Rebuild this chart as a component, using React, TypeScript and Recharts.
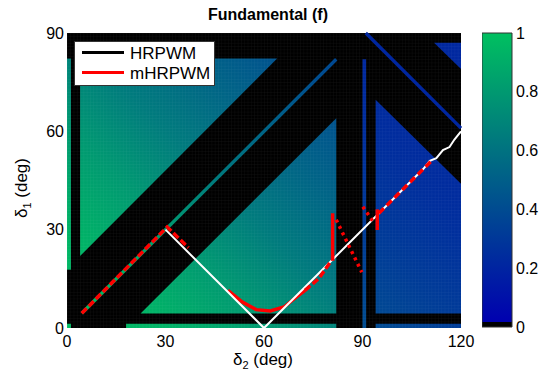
import { ComposedChart, Area, Line, XAxis, YAxis, Legend, BarChart, Bar } from 'recharts';

const FONT = '"Liberation Sans", Arial, Helvetica, sans-serif';
const WIDTH = 543;
const HEIGHT = 384;
// plot box of the map, in page pixels
const PLOT = { left: 67, top: 33, width: 394, height: 295 };

const xTicks = [0, 30, 60, 90, 120];
const yTicks = [0, 30, 60, 90];
const colorTicks = [0, 0.2, 0.4, 0.6, 0.8, 1];

// map value against δ1 + δ2 (left of the δ2 = 90 strip / right of it)
const sumStops = [0, 30, 60, 90, 120, 150, 180, 210];
const valueLeft = [0.98, 0.93, 0.8, 0.64, 0.52, 0.41, 0.33, 0.3];
const valueRight = [0.5, 0.47, 0.44, 0.4, 0.31, 0.24, 0.2, 0.21];

// coloured cells of the map: δ2 -> [δ1 low, δ1 high]; everything else is black
const leftStrip = [{ x: 0, r: [17.8, 82.2] }, { x: 1.2, r: [17.8, 82.2] }];
const leftCorner = [{ x: 0, r: [0, 1.3] }, { x: 1.2, r: [0, 1.3] }];
const upperTriangle = [{ x: 4, r: [22, 82.2] }, { x: 64, r: [82.2, 82.2] }];
const lowerTriangle = [{ x: 22.4, r: [4.4, 4.4] }, { x: 82, r: [4.4, 64] }];
const bottomStrip = [{ x: 18, r: [0, 1.3] }, { x: 82, r: [0, 1.3] }];
const strip90 = [{ x: 90, r: [0, 82] }, { x: 91.1, r: [0, 82] }];
const rightRegion = [{ x: 94, r: [4.4, 69.6] }, { x: 120, r: [4.4, 44] }];
const rightBottom = [{ x: 94, r: [0, 1.3] }, { x: 120, r: [0, 1.3] }];
const cornerTriangle = [{ x: 111.8, r: [87, 87] }, { x: 120, r: [79, 87] }];
const diagonal = [{ x: 4.5, y: 4.5 }, { x: 82, y: 82 }];
const antiDiagonal = [{ x: 91, y: 90 }, { x: 120, y: 61 }];
const fullMap = [{ x: 0, r: [0, 90] }, { x: 120, r: [0, 90] }];

// HRPWM (drawn white on the map)
const hrpwm = [
  { x: 30, y: 30 }, { x: 60, y: 0 }, { x: 108.5, y: 48.5 }, { x: 110.5, y: 51 },
  { x: 112.5, y: 51.8 }, { x: 114.5, y: 54.3 }, { x: 116.5, y: 55.2 }, { x: 118, y: 57.5 }, { x: 120, y: 60 },
];

// mHRPWM pieces
const mLeft = [{ x: 4.5, y: 4.5 }, { x: 30.5, y: 30.8 }, { x: 37, y: 24.5 }];
const mCurve = [
  { x: 49, y: 11.5 }, { x: 53.4, y: 7.9 }, { x: 57.6, y: 5.6 }, { x: 61.9, y: 5.2 },
  { x: 66.1, y: 6.4 }, { x: 69.3, y: 9 }, { x: 72.5, y: 11.5 },
];
const mRise = [{ x: 72.5, y: 11.5 }, { x: 76.7, y: 15.1 }, { x: 80.5, y: 20.5 }];
const mJump = [{ x: 80.9, y: 20.5 }, { x: 80.9, y: 35 }];
const mCross1 = [{ x: 82, y: 33 }, { x: 89.8, y: 17 }];
const mCross2 = [{ x: 90.1, y: 37 }, { x: 93.3, y: 32.4 }];
const mJump2 = [{ x: 94.5, y: 36.2 }, { x: 94.5, y: 29.9 }];
const mUpper = [{ x: 95, y: 35 }, { x: 111, y: 51 }];

const legendItems = [
  { name: 'HRPWM', color: '#000000' },
  { name: 'mHRPWM', color: '#ff0000' },
];

const LOW = [0, 0, 176];
const HIGH = [0, 192, 96];
function cmap(v: number) {
  const c = LOW.map((l, i) => Math.round(l + (HIGH[i] - l) * v));
  return `rgb(${c[0]},${c[1]},${c[2]})`;
}

// gradient runs along δ1 = δ2, from (0,0) to (105,105)
const g0 = { x: PLOT.left, y: PLOT.top + PLOT.height };
const g1 = {
  x: PLOT.left + (105 / 120) * PLOT.width,
  y: PLOT.top + PLOT.height - (105 / 90) * PLOT.height,
};
// one map cell = 1 deg
const cellW = PLOT.width / 120;
const cellH = PLOT.height / 90;

function FieldGradient({ id, values }: { id: string; values: number[] }) {
  return (
    <linearGradient id={id} gradientUnits="userSpaceOnUse" x1={g0.x} y1={g0.y} x2={g1.x} y2={g1.y}>
      {sumStops.map((s, i) => (
        <stop key={s} offset={s / 210} stopColor={cmap(values[i])} />
      ))}
    </linearGradient>
  );
}

function MapLegend() {
  return (
    <svg width={141} height={45} style={{ display: 'block' }}>
      <rect x={0.5} y={0.5} width={140} height={44} fill="#fff" stroke="#333" />
      {legendItems.map((item, i) => (
        <g key={item.name}>
          <line x1={8} x2={50} y1={11.5 + i * 20} y2={11.5 + i * 20} stroke={item.color} strokeWidth={3} />
          <text x={56} y={17.5 + i * 20} fontSize={17} fontFamily={FONT} fill="#000">
            {item.name}
          </text>
        </g>
      ))}
    </svg>
  );
}

const region = (data: any[], fill: string, key: string, opacity = 1) => (
  <Area
    key={key}
    data={data}
    dataKey="r"
    type="linear"
    stroke="none"
    fill={fill}
    fillOpacity={opacity}
    dot={false}
    activeDot={false}
    isAnimationActive={false}
  />
);

const path = (data: any[], stroke: string, width: number, key: string, dash?: string) => (
  <Line
    key={key}
    data={data}
    dataKey="y"
    type="linear"
    stroke={stroke}
    strokeWidth={width}
    strokeDasharray={dash}
    dot={false}
    activeDot={false}
    isAnimationActive={false}
  />
);

export default function App() {
  const tick = { fontSize: 16, fill: '#000', fontFamily: FONT };
  return (
    <div style={{ position: 'absolute', left: 0, top: 0, width: WIDTH, height: HEIGHT, background: '#fff', fontFamily: FONT }}>
      <ComposedChart
        width={WIDTH}
        height={HEIGHT}
        margin={{ top: PLOT.top, right: WIDTH - PLOT.left - PLOT.width, bottom: HEIGHT - PLOT.top - PLOT.height - 30, left: PLOT.left - 40 }}
      >
        <defs>
          <FieldGradient id="fieldL" values={valueLeft} />
          <FieldGradient id="fieldR" values={valueRight} />
          <pattern id="mesh" patternUnits="userSpaceOnUse" x={PLOT.left} y={PLOT.top} width={cellW} height={cellH}>
            <path d={`M ${cellW} 0 L 0 0 L 0 ${cellH}`} fill="none" stroke="#fff" strokeWidth={0.6} />
          </pattern>
        </defs>
        <XAxis
          type="number"
          dataKey="x"
          domain={[0, 120]}
          ticks={xTicks}
          interval={0}
          height={30}
          axisLine={false}
          tickLine={false}
          tickSize={6}
          tickMargin={2}
          tick={tick}
        />
        <YAxis
          type="number"
          domain={[0, 90]}
          ticks={yTicks}
          interval={0}
          width={40}
          axisLine={false}
          tickLine={false}
          tickSize={1}
          tickMargin={2}
          tick={tick}
        />
        {region(fullMap, '#000', 'bg')}
        {region(leftStrip, 'url(#fieldL)', 'a')}
        {region(leftCorner, 'url(#fieldL)', 'b')}
        {region(upperTriangle, 'url(#fieldL)', 'c')}
        {region(lowerTriangle, 'url(#fieldL)', 'd')}
        {region(bottomStrip, 'url(#fieldL)', 'e')}
        {region(strip90, 'url(#fieldR)', 'f')}
        {region(rightRegion, 'url(#fieldR)', 'g')}
        {region(rightBottom, 'url(#fieldR)', 'h')}
        {region(cornerTriangle, 'url(#fieldR)', 'i')}
        {region(fullMap, 'url(#mesh)', 'mesh', 0.09)}
        {path(diagonal, 'url(#fieldL)', 3.3, 'diag')}
        {path(antiDiagonal, 'url(#fieldR)', 3.3, 'anti')}
        {path(mCurve, '#ff0000', 3.5, 'm3')}
        {path(hrpwm, '#ffffff', 2, 'hr')}
        {path(mLeft, '#ff0000', 3.5, 'm1', '7 3')}
        {path(mRise, '#ff0000', 3.5, 'm4', '7 3')}
        {path(mJump, '#ff0000', 3.5, 'm5')}
        {path(mCross1, '#ff0000', 3.5, 'm6', '3 4')}
        {path(mCross2, '#ff0000', 3.5, 'm7', '3 4')}
        {path(mJump2, '#ff0000', 3.5, 'm8')}
        {path(mUpper, '#ff0000', 3.5, 'm9', '7 4')}
        <Legend
          layout="vertical"
          align="center"
          verticalAlign="middle"
          wrapperStyle={{ left: 74, top: 41, width: 141, height: 45 }}
          content={() => <MapLegend />}
        />
      </ComposedChart>

      <div style={{ position: 'absolute', left: 482, top: 0 }}>
        <BarChart
          width={61}
          height={HEIGHT}
          data={[{ name: 'bar', v: 1 }]}
          margin={{ top: 33, right: 0, bottom: 57, left: 0 }}
          barCategoryGap={0}
        >
          <defs>
            <linearGradient id="cbar" x1="0" y1="1" x2="0" y2="0">
              <stop offset={0} stopColor="#000" />
              <stop offset={0.016} stopColor="#000" />
              <stop offset={0.016} stopColor={cmap(0)} />
              <stop offset={1} stopColor={cmap(1)} />
            </linearGradient>
          </defs>
          <XAxis dataKey="name" hide />
          <YAxis
            orientation="right"
            domain={[0, 1]}
            ticks={colorTicks}
            interval={0}
            width={31}
            axisLine={false}
            tickLine={false}
            tickSize={2}
            tickMargin={2}
            tick={tick}
            tickFormatter={(v: number) => String(v)}
          />
          <Bar dataKey="v" fill="url(#cbar)" stroke="#333" strokeWidth={1} isAnimationActive={false} />
        </BarChart>
      </div>

      <div style={{ position: 'absolute', left: 168, top: 6, width: 200, textAlign: 'center', fontWeight: 'bold', fontSize: 16, lineHeight: '18px' }}>
        Fundamental (f)
      </div>
      <div style={{ position: 'absolute', left: 163, top: 350, width: 200, textAlign: 'center', fontSize: 17, lineHeight: '20px' }}>
        δ<sub style={{ fontSize: 11, verticalAlign: -4, lineHeight: 0 }}>2</sub> (deg)
      </div>
      <div
        style={{
          position: 'absolute', left: -38, top: 178, width: 120, height: 20, textAlign: 'center',
          fontSize: 17, lineHeight: '20px', transform: 'rotate(-90deg)',
        }}
      >
        δ<sub style={{ fontSize: 11, verticalAlign: -4, lineHeight: 0 }}>1</sub> (deg)
      </div>
    </div>
  );
}
